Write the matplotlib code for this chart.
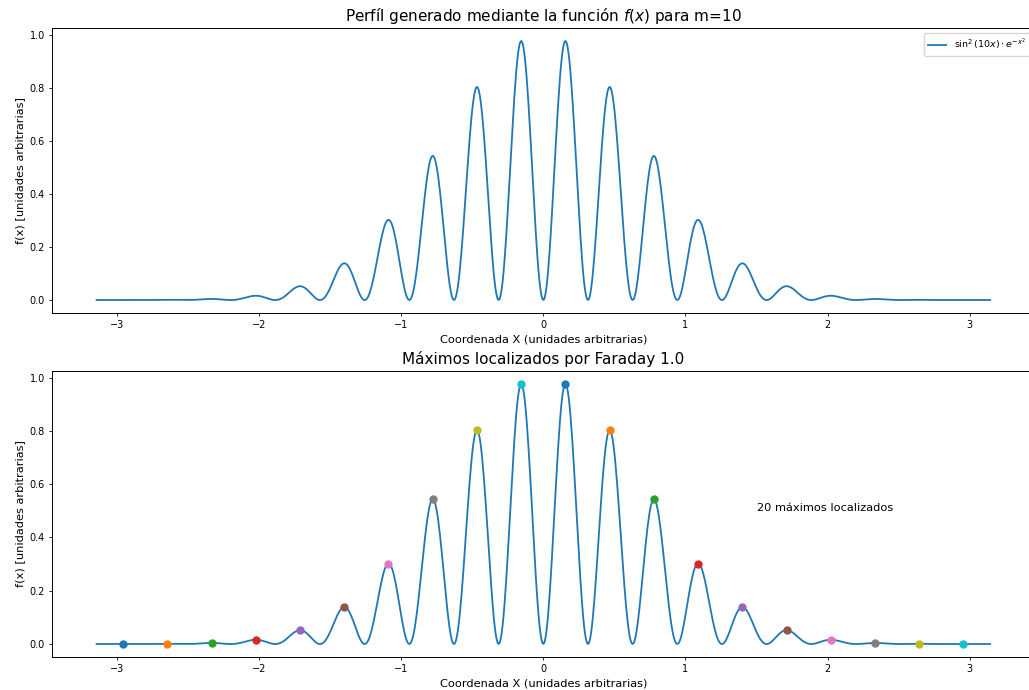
import numpy as np
import matplotlib.pyplot as plt

# perfil f(x) = sin^2(m x) * exp(-x^2)
m = 10
n_puntos = 1000
x_min, x_max = -np.pi, np.pi

x = np.linspace(x_min, x_max, n_puntos)
y = np.sin(m * x)**2 * np.exp(-x**2)

# maximos locales del perfil discreto
idx_max = [i for i in range(1, len(y) - 1) if y[i] > y[i - 1] and y[i] >= y[i + 1]]
x_max_loc = x[idx_max]
y_max_loc = y[idx_max]

plt.rcParams['xtick.labelsize'] = 7
plt.rcParams['ytick.labelsize'] = 7
plt.rcParams['xtick.major.size'] = 2.5
plt.rcParams['ytick.major.size'] = 2.5
plt.rcParams['xtick.major.width'] = 0.6
plt.rcParams['ytick.major.width'] = 0.6
plt.rcParams['xtick.major.pad'] = 2.5
plt.rcParams['ytick.major.pad'] = 2.5
plt.rcParams['axes.linewidth'] = 0.7
plt.rcParams['axes.labelpad'] = 3

fig = plt.figure(figsize=(10.29, 6.9), dpi=100)
ax1 = fig.add_axes([0.0505, 0.5464, 0.955, 0.413])
ax2 = fig.add_axes([0.0505, 0.0478, 0.955, 0.4145])

ax1.plot(x, y, color='tab:blue', lw=1.3, label=r'$\sin^2(10x)\cdot e^{-x^2}$')
ax1.set_title(r'Perfíl generado mediante la función $f(x)$ para m=10', fontsize=11, pad=5)
ax1.set_xlabel('Coordenada X (unidades arbitrarias)', fontsize=8.2)
ax1.set_ylabel('f(x) [unidades arbitrarias]', fontsize=8.2)
ax1.legend(loc='upper right', fontsize=6.8)

ax2.plot(x, y, color='tab:blue', lw=1.3)
for xm, ym in zip(x_max_loc, y_max_loc):
    ax2.plot(xm, ym, 'o', markersize=5)
ax2.text(1.5, 0.5, f'{len(x_max_loc)} máximos localizados', fontsize=8.2)
ax2.set_title('Máximos localizados por Faraday 1.0', fontsize=11, pad=5)
ax2.set_xlabel('Coordenada X (unidades arbitrarias)', fontsize=8.2)
ax2.set_ylabel('f(x) [unidades arbitrarias]', fontsize=8.2)

fig.savefig('out.png', dpi=100)
